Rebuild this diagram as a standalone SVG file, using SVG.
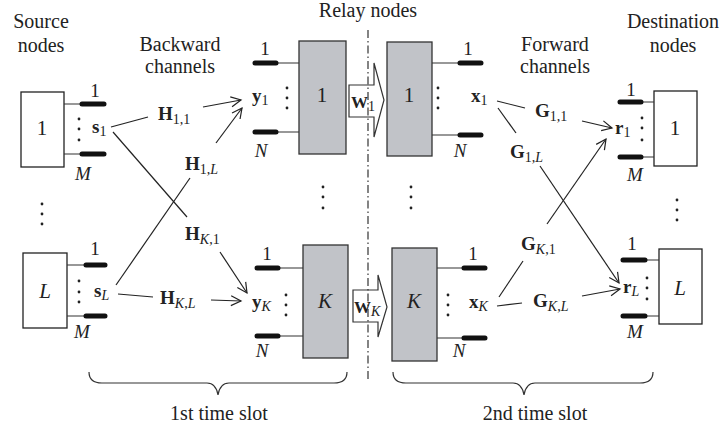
<svg xmlns="http://www.w3.org/2000/svg" width="722" height="429" viewBox="0 0 722 429">
<style>
text{font-family:"Liberation Serif","Times New Roman",serif;fill:#222;}
.t{font-size:20px;}
.n{font-size:21px;}
.s{font-size:19px;}
.b{font-weight:bold;}
.i{font-style:italic;}
.sub{font-size:14px;}
.box{fill:#fff;stroke:#222;stroke-width:1.3;}
.relay{fill:#c1c3c8;stroke:#333;stroke-width:1.3;}
.thin{stroke:#333;stroke-width:1.2;fill:none;}
.ant{stroke:#111;stroke-width:5;stroke-linecap:round;}
.dot{fill:#222;}
.ch{stroke:#222;stroke-width:1.2;fill:none;}
.arr{stroke:#222;stroke-width:1.2;fill:none;marker-end:url(#ah);}
.warr{fill:#fff;stroke:#333;stroke-width:1.2;}
</style>
<defs>
<marker id="ah" markerUnits="userSpaceOnUse" markerWidth="14" markerHeight="14" viewBox="-11 -7 14 14" refX="0" refY="0" orient="auto">
<path d="M-10,-5 L0,0 L-10,5" fill="none" stroke="#222" stroke-width="1.2"/>
</marker>
</defs>

<!-- headings -->
<g id="headings" class="t" text-anchor="middle">
<text x="41" y="28">Source</text>
<text x="41" y="52">nodes</text>
<text x="180" y="51">Backward</text>
<text x="180" y="73">channels</text>
<text x="368" y="17">Relay nodes</text>
<text x="555" y="51">Forward</text>
<text x="555" y="73">channels</text>
<text x="673" y="28">Destination</text>
<text x="673" y="52">nodes</text>
<text x="219" y="420">1st time slot</text>
<text x="535" y="420">2nd time slot</text>
</g>

<!-- braces -->
<path class="thin" d="M89,372 Q89,383 102,383 L207,383 Q216,383 218,395 Q220,383 229,383 L334,383 Q347,383 347,372"/>
<path class="thin" d="M393,372 Q393,383 406,383 L513,383 Q522,383 524,395 Q526,383 535,383 L640,383 Q653,383 653,372"/>

<!-- vertical ellipses -->
<g id="vdots" class="dot">
<circle cx="42" cy="204" r="1.4"/><circle cx="42" cy="214" r="1.4"/><circle cx="42" cy="224" r="1.4"/>
<circle cx="323" cy="187" r="1.4"/><circle cx="323" cy="197" r="1.4"/><circle cx="323" cy="208" r="1.4"/>
<circle cx="411" cy="187" r="1.4"/><circle cx="411" cy="197" r="1.4"/><circle cx="411" cy="208" r="1.4"/>
<circle cx="677" cy="200" r="1.4"/><circle cx="677" cy="210" r="1.4"/><circle cx="677" cy="220" r="1.4"/>
</g>

<!-- source node 1 -->
<g id="src1">
<rect class="box" x="21" y="92" width="43" height="75"/>
<path class="thin" d="M64,104 H82 M64,154 H82"/>
<path class="ant" d="M82,104 H104 M82,154 H104"/>
<circle class="dot" cx="79" cy="119" r="1.4"/><circle class="dot" cx="79" cy="129" r="1.4"/><circle class="dot" cx="79" cy="140" r="1.4"/>
<text class="n" x="42" y="135" text-anchor="middle">1</text>
<text class="s" x="95" y="97" text-anchor="middle">1</text>
<text class="s i" x="83" y="180" text-anchor="middle">M</text>
<text class="s" x="92" y="133"><tspan class="b">s</tspan><tspan class="sub" dy="3">1</tspan></text>
</g>

<!-- source node L -->
<g id="srcL">
<rect class="box" x="23" y="253" width="44" height="75"/>
<path class="thin" d="M67,265 H86 M67,316 H86"/>
<path class="ant" d="M86,265 H105 M86,316 H105"/>
<circle class="dot" cx="79" cy="281" r="1.4"/><circle class="dot" cx="79" cy="292" r="1.4"/><circle class="dot" cx="79" cy="302" r="1.4"/>
<text class="n i" x="45" y="298" text-anchor="middle">L</text>
<text class="s" x="95" y="255" text-anchor="middle">1</text>
<text class="s i" x="82" y="338" text-anchor="middle">M</text>
<text class="s" x="94" y="297"><tspan class="b">s</tspan><tspan class="sub i" dy="3">L</tspan></text>
</g>

<!-- relay 1 receive side -->
<g id="relay1rx">
<rect class="relay" x="299" y="41" width="47" height="113"/>
<path class="thin" d="M277,63 H299 M277,132 H299"/>
<path class="ant" d="M255,63 H276 M255,132 H276"/>
<circle class="dot" cx="287" cy="88" r="1.4"/><circle class="dot" cx="287" cy="98" r="1.4"/><circle class="dot" cx="287" cy="108" r="1.4"/>
<text class="n" x="322" y="102" text-anchor="middle">1</text>
<text class="s" x="265" y="55" text-anchor="middle">1</text>
<text class="s i" x="261" y="157" text-anchor="middle">N</text>
<text class="s" x="252" y="102"><tspan class="b">y</tspan><tspan class="sub" dy="3">1</tspan></text>
</g>

<!-- relay 1 transmit side -->
<g id="relay1tx">
<rect class="relay" x="387" y="42" width="45" height="114"/>
<path class="thin" d="M432,63 H459 M432,135 H459"/>
<path class="ant" d="M460,63 H481 M460,135 H481"/>
<circle class="dot" cx="438" cy="88" r="1.4"/><circle class="dot" cx="438" cy="98" r="1.4"/><circle class="dot" cx="438" cy="108" r="1.4"/>
<text class="n" x="409" y="102" text-anchor="middle">1</text>
<text class="s" x="468" y="55" text-anchor="middle">1</text>
<text class="s i" x="460" y="157" text-anchor="middle">N</text>
<text class="s" x="471" y="102"><tspan class="b">x</tspan><tspan class="sub" dy="3">1</tspan></text>
</g>

<!-- relay K receive side -->
<g id="relayKrx">
<rect class="relay" x="303" y="245" width="45" height="113"/>
<path class="thin" d="M280,268 H303 M280,336 H303"/>
<path class="ant" d="M257,268 H278 M257,336 H278"/>
<circle class="dot" cx="286" cy="295" r="1.4"/><circle class="dot" cx="286" cy="305" r="1.4"/><circle class="dot" cx="286" cy="315" r="1.4"/>
<text class="n i" x="325" y="308" text-anchor="middle">K</text>
<text class="s" x="267" y="260" text-anchor="middle">1</text>
<text class="s i" x="262" y="357" text-anchor="middle">N</text>
<text class="s" x="252" y="308"><tspan class="b">y</tspan><tspan class="sub i" dy="3">K</tspan></text>
</g>

<!-- relay K transmit side -->
<g id="relayKtx">
<rect class="relay" x="392" y="248" width="45" height="113"/>
<path class="thin" d="M437,268 H463 M437,338 H463"/>
<path class="ant" d="M464,268 H485 M464,338 H485"/>
<circle class="dot" cx="448" cy="295" r="1.4"/><circle class="dot" cx="448" cy="305" r="1.4"/><circle class="dot" cx="448" cy="315" r="1.4"/>
<text class="n i" x="414" y="308" text-anchor="middle">K</text>
<text class="s" x="473" y="260" text-anchor="middle">1</text>
<text class="s i" x="459" y="357" text-anchor="middle">N</text>
<text class="s" x="469" y="308"><tspan class="b">x</tspan><tspan class="sub i" dy="3">K</tspan></text>
</g>

<!-- relay processing arrows -->
<g id="W1">
<polygon class="warr" points="349,85 374,85 374,63 384,100 374,137 374,117 349,117"/>
<text x="351" y="108" font-size="17"><tspan class="b">W</tspan><tspan class="sub" font-size="12" dy="3">1</tspan></text>
</g>
<g id="WK">
<polygon class="warr" points="353,290 378,290 378,275 387,307 378,337 378,322 353,322"/>
<text x="354" y="313" font-size="17"><tspan class="b">W</tspan><tspan class="sub i" font-size="12" dy="3">K</tspan></text>
</g>

<!-- time-slot divider -->
<line id="divider" x1="368" y1="30" x2="368" y2="382" stroke="#333" stroke-width="1.2" stroke-dasharray="8,3,1.5,3"/>

<!-- destination node 1 -->
<g id="dst1">
<rect class="box" x="654" y="91" width="43" height="75"/>
<path class="thin" d="M642,102 H654 M642,157 H654"/>
<path class="ant" d="M620,102 H641 M620,157 H641"/>
<circle class="dot" cx="642" cy="118" r="1.4"/><circle class="dot" cx="642" cy="128" r="1.4"/><circle class="dot" cx="642" cy="140" r="1.4"/>
<text class="n" x="675" y="135" text-anchor="middle">1</text>
<text class="s" x="631" y="96" text-anchor="middle">1</text>
<text class="s i" x="635" y="181" text-anchor="middle">M</text>
<text class="s" x="615" y="134"><tspan class="b">r</tspan><tspan class="sub" dy="3">1</tspan></text>
</g>

<!-- destination node L -->
<g id="dstL">
<rect class="box" x="659" y="249" width="43" height="75"/>
<path class="thin" d="M646,260 H659 M646,316 H659"/>
<path class="ant" d="M623,260 H645 M623,316 H645"/>
<circle class="dot" cx="647" cy="278" r="1.4"/><circle class="dot" cx="647" cy="288" r="1.4"/><circle class="dot" cx="647" cy="299" r="1.4"/>
<text class="n i" x="680" y="295" text-anchor="middle">L</text>
<text class="s" x="632" y="250" text-anchor="middle">1</text>
<text class="s i" x="635" y="338" text-anchor="middle">M</text>
<text class="s" x="623" y="293"><tspan class="b">r</tspan><tspan class="sub i" dy="3">L</tspan></text>
</g>

<!-- connectors -->
<g id="connectors">
<line class="ch" x1="111" y1="127" x2="148" y2="117"/>
<line class="arr" x1="203" y1="107" x2="241" y2="100"/>
<line class="ch" x1="113" y1="132" x2="187" y2="217"/>
<line class="arr" x1="220" y1="252" x2="247" y2="293"/>
<line class="ch" x1="116" y1="285" x2="190" y2="178"/>
<line class="arr" x1="216" y1="143" x2="242" y2="108"/>
<line class="ch" x1="118" y1="294" x2="153" y2="297"/>
<line class="arr" x1="211" y1="300" x2="241" y2="301"/>

<line class="ch" x1="497" y1="101" x2="525" y2="108"/>
<line class="arr" x1="582" y1="121" x2="612" y2="128"/>
<line class="ch" x1="498" y1="108" x2="516" y2="133"/>
<line class="arr" x1="540" y1="166" x2="619" y2="283"/>
<line class="ch" x1="499" y1="297" x2="523" y2="261"/>
<line class="arr" x1="547" y1="224" x2="606" y2="139"/>
<line class="ch" x1="497" y1="306" x2="522" y2="303"/>
<line class="arr" x1="582" y1="296" x2="620" y2="289"/>
</g>

<!-- channel labels -->
<g id="channel-labels" class="s">
<text x="158" y="120"><tspan class="b">H</tspan><tspan class="sub" dy="4">1,1</tspan></text>
<text x="185" y="170"><tspan class="b">H</tspan><tspan class="sub" dy="4">1,<tspan class="i">L</tspan></tspan></text>
<text x="185" y="240"><tspan class="b">H</tspan><tspan class="sub" dy="4"><tspan class="i">K</tspan>,1</tspan></text>
<text x="160" y="304"><tspan class="b">H</tspan><tspan class="sub" dy="4"><tspan class="i">K</tspan>,<tspan class="i">L</tspan></tspan></text>
<text x="535" y="117"><tspan class="b">G</tspan><tspan class="sub" dy="4">1,1</tspan></text>
<text x="510" y="158"><tspan class="b">G</tspan><tspan class="sub" dy="4">1,<tspan class="i">L</tspan></tspan></text>
<text x="521" y="250"><tspan class="b">G</tspan><tspan class="sub" dy="4"><tspan class="i">K</tspan>,1</tspan></text>
<text x="533" y="307"><tspan class="b">G</tspan><tspan class="sub" dy="4"><tspan class="i">K</tspan>,<tspan class="i">L</tspan></tspan></text>
</g>
</svg>
